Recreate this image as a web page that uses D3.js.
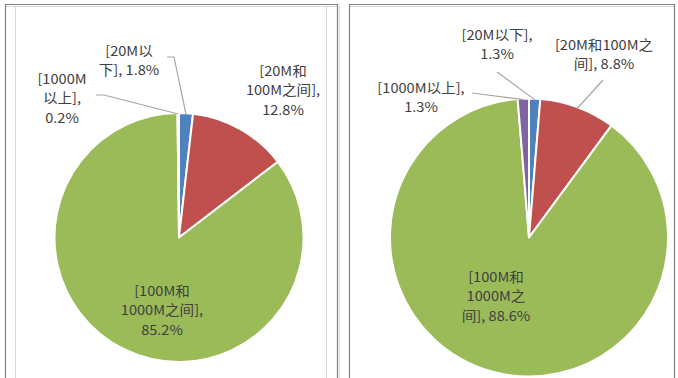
<!DOCTYPE html>
<html><head><meta charset="utf-8">
<script src="https://cdn.jsdelivr.net/npm/d3@7"></script>
<style>
html,body{margin:0;padding:0;background:#fff;}
svg{display:block;}
text{font-family:"Noto Sans CJK SC","Noto Sans",sans-serif;}
</style></head>
<body>
<svg id="c" width="678" height="378"></svg>
<script>
// ---- data ----
const categories = ["20M以下", "20M和100M之间", "100M和1000M之间", "1000M以上"];
const valuesLeft  = [1.8, 12.8, 85.2, 0.2];
const valuesRight = [1.3, 8.8, 88.6, 1.3];
const colors = ["#4F81BD", "#C0504D", "#9BBB59", "#8064A2"];
// wrapped label lines (as shown in the picture)
const labelsLeft = [
  ["[20M以", "下], 1.8%"],
  ["[20M和", "100M之间],", "12.8%"],
  ["[100M和", "1000M之间],", "85.2%"],
  ["[1000M", "以上],", "0.2%"]
];
const labelsRight = [
  ["[20M以下],", "1.3%"],
  ["[20M和100M之", "间], 8.8%"],
  ["[100M和", "1000M之", "间], 88.6%"],
  ["[1000M以上],", "1.3%"]
];

// ---- layout ----
const svg = d3.select("#c");
const panels = [
  {x0: 5, x1: 337, inner: [15, 326], cx: 179, cy: 237.5, r: 124.5, values: valuesLeft, labels: labelsLeft,
   lab: [{x:129,y:50},{x:283,y:70},{x:162,y:290},{x:62,y:78}],
   lead: [[{x:167,y:57},{x:174,y:57}], [], [], [{x:96,y:95},{x:104,y:95}]] },
  {x0: 349, x1: 674, inner: [339], cx: 529, cy: 237.5, r: 139, values: valuesRight, labels: labelsRight,
   lab: [{x:497,y:34},{x:604,y:44},{x:496,y:276},{x:421,y:87}],
   lead: [[{x:497,y:72}], [{x:603,y:80}], [], [{x:472,y:93}]] }
];

// panel frames
panels.forEach(p => {
  p.inner.forEach(x => svg.append("line").attr("x1", x + 0.5).attr("x2", x + 0.5).attr("y1", 6).attr("y2", 378)
    .attr("stroke", "#d9d9d9").attr("stroke-width", 1));
  svg.append("line").attr("x1", p.x0).attr("x2", p.x1).attr("y1", 6.5).attr("y2", 6.5).attr("stroke", "#d9d9d9");
  svg.append("path").attr("d", `M${p.x0 + 0.5},380 V4.5 H${p.x1 + 0.5} V380`)
    .attr("fill", "none").attr("stroke", "#808080").attr("stroke-width", 1.2);
});

const pie = d3.pie().sort(null).value(d => d);
const lineH = 19.5;

panels.forEach(p => {
  const g = svg.append("g").attr("transform", `translate(${p.cx},${p.cy})`);
  const arcs = pie(p.values);
  const arc = d3.arc().innerRadius(0).outerRadius(p.r);
  g.selectAll("path.s").data(arcs).join("path").attr("class", "s")
    .attr("d", arc).attr("fill", (d, i) => colors[i])
    .attr("stroke", "#fff").attr("stroke-width", 2).attr("stroke-linejoin", "round");

  // leader lines
  const edge = d3.arc().innerRadius(p.r - 1).outerRadius(p.r - 1);
  arcs.forEach((d, i) => {
    const pts = p.lead[i];
    if (!pts.length) return;
    const c = edge.centroid(d);
    const path = d3.path();
    path.moveTo(pts[0].x, pts[0].y);
    pts.slice(1).forEach(q => path.lineTo(q.x, q.y));
    path.lineTo(c[0] + p.cx, c[1] + p.cy);
    svg.append("path").attr("d", path.toString()).attr("fill", "none")
      .attr("stroke", "#a6a6a6").attr("stroke-width", 1.2);
  });

  // labels
  arcs.forEach((d, i) => {
    const L = p.lab[i];
    const t = svg.append("text").attr("text-anchor", "middle")
      .attr("font-size", 13.5).attr("fill", "#404040")
      .attr("transform", `translate(${L.x},${L.y}) scale(1.08,1)`);
    p.labels[i].forEach((s, k) => t.append("tspan").attr("x", 0).attr("y", k * lineH)
      .attr("dominant-baseline", "central").text(s));
  });
});
</script>
</body></html>
